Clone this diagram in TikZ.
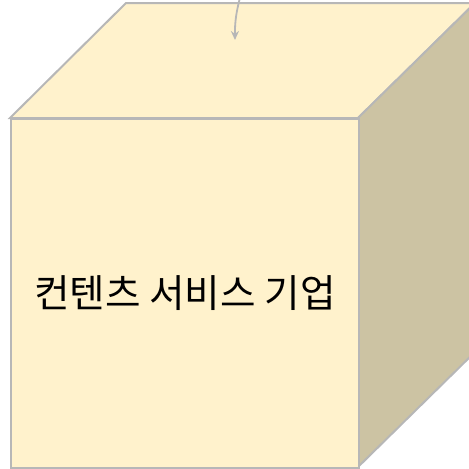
\documentclass[tikz,border=0pt]{standalone}
\usepackage{fontspec}
\newfontfamily\krfont{Noto Sans CJK KR}
\usetikzlibrary{arrows.meta}
\definecolor{facefill}{HTML}{FFF2CC}
\definecolor{sidefill}{HTML}{CCC3A3}
\definecolor{edgecol}{HTML}{B7B7B7}
\tikzset{
  face/.style={draw=edgecol, line width=2pt, line join=miter},
  connector/.style={draw=edgecol, line width=1.8pt, -{Stealth[length=9pt,width=8pt]}}
}
\begin{document}
\begin{tikzpicture}[x=1pt,y=-1pt]
\useasboundingbox (0,0) rectangle (469,469);
\clip (0,0) rectangle (469,469);
% top face
\path[face, fill=facefill] (10,118) -- (126,3) -- (475,3) -- (358,118) -- cycle;
% right face
\path[face, fill=sidefill] (358,118) -- (475,3) -- (475,352) -- (358,467) -- cycle;
% front face
\node[face, fill=facefill, minimum width=348pt, minimum height=349pt, inner sep=0pt, anchor=north west,
      font=\krfont\fontsize{38.6}{44}\selectfont] (front) at (10,118) {컨텐츠 서비스 기업};
\coordinate (src) at (241,-6);
\coordinate (dst) at (235,40);
\draw[connector] (src) to[bend right=8] (dst);
\end{tikzpicture}
\end{document}
